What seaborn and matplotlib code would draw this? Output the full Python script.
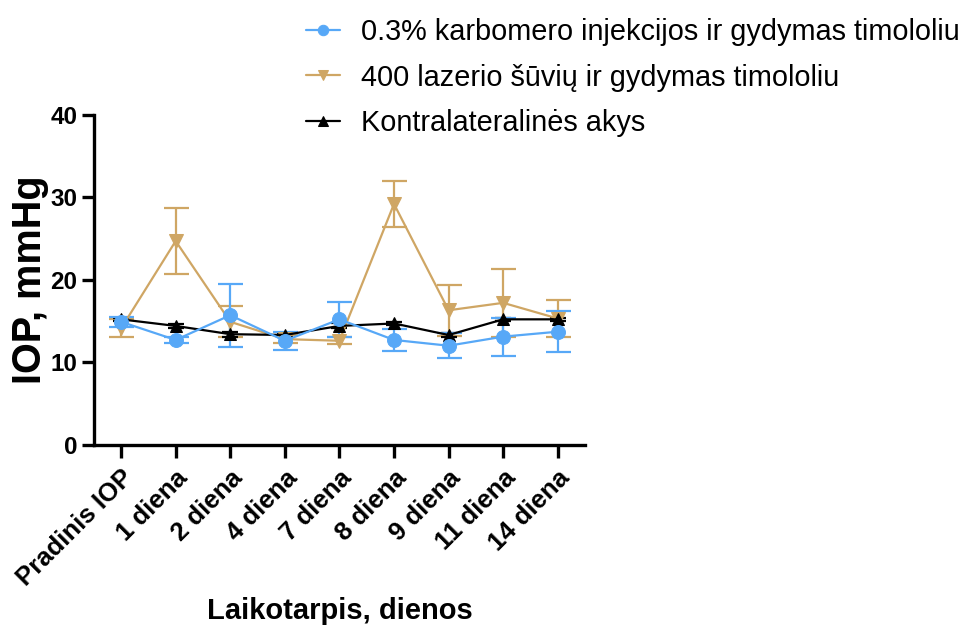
import numpy as np
import pandas as pd
import matplotlib
matplotlib.use("Agg")
import matplotlib.pyplot as plt
import seaborn as sns

# Time points
timepoints = ["Pradinis IOP", "1 diena", "2 diena", "4 diena", "7 diena",
              "8 diena", "9 diena", "11 diena", "14 diena"]

# Mean IOP (mmHg) and SD per group
carbomer_mean = [14.9, 12.7, 15.7, 12.6, 15.2, 12.7, 12.0, 13.1, 13.7]
carbomer_sd = [0.6, 0.4, 3.8, 1.1, 2.1, 1.3, 1.5, 2.3, 2.5]

laser_mean = [14.1, 24.7, 14.9, 12.8, 12.6, 29.2, 16.3, 17.2, 15.3]
laser_sd = [1.1, 4.0, 1.9, 0.5, 0.4, 2.8, 3.1, 4.1, 2.3]

contra_mean = [15.2, 14.4, 13.4, 13.3, 14.4, 14.7, 13.3, 15.2, 15.2]
contra_sd = [0.2, 0.2, 0.3, 0.2, 0.3, 0.2, 0.3, 0.2, 0.2]

group_names = ["0.3% karbomero injekcijos ir gydymas timololiu",
               "400 lazerio šūvių ir gydymas timololiu",
               "Kontralateralinės akys"]

sns.set_theme(style="ticks")
plt.rcParams["font.family"] = ["Liberation Sans", "DejaVu Sans"]
plt.rcParams["text.color"] = "black"
plt.rcParams["axes.labelcolor"] = "black"
plt.rcParams["xtick.color"] = "black"
plt.rcParams["ytick.color"] = "black"

fig = plt.figure(figsize=(9.67, 6.28), dpi=100)
ax = fig.add_axes([0.097, 0.292, 0.508, 0.525])

x = np.arange(len(timepoints))
# name, means, sds, colour, marker, marker size, cap size
series = [
    (group_names[1], laser_mean, laser_sd, "#CFA664", "v", 9.5, 9),
    (group_names[2], contra_mean, contra_sd, "black", "^", 9, 6),
    (group_names[0], carbomer_mean, carbomer_sd, "#57A8F7", "o", 10, 9),
]

frames = []
for name, m, s, c, mk, ms, cs in series:
    frames.append(pd.DataFrame({"pos": x, "IOP": m, "sd": s, "grupe": name}))
df = pd.concat(frames, ignore_index=True)

handles = {}
for name, m, s, c, mk, ms, cs in series:
    sub = df[df["grupe"] == name]
    ax.errorbar(sub["pos"], sub["IOP"], yerr=sub["sd"], fmt="none",
                ecolor=c, elinewidth=1.6, capsize=cs, capthick=1.6, zorder=2)
    sns.lineplot(data=sub, x="pos", y="IOP", ax=ax, color=c, marker=mk,
                 markersize=ms, markeredgecolor=c, linewidth=1.6,
                 label=name, legend=False, zorder=3)
    handles[name] = ax.lines[-1]

ax.set_xlim(-0.5, 8.5)
ax.set_ylim(0, 40)
ax.set_yticks([0, 10, 20, 30, 40])
ax.set_xticks(x)
ax.set_xticklabels(timepoints, rotation=45, ha="right", rotation_mode="anchor",
                   fontsize=18.5, fontweight="bold")
for lbl in ax.get_yticklabels():
    lbl.set_fontsize(17.5)
    lbl.set_fontweight("bold")

sns.despine(ax=ax)
for sp in ["left", "bottom"]:
    ax.spines[sp].set_linewidth(2.4)
    ax.spines[sp].set_color("black")
ax.tick_params(axis="both", direction="out", length=9, width=2.4,
               color="black", pad=3)
ax.tick_params(axis="x", pad=6)

ax.set_xlabel("Laikotarpis, dienos", fontsize=21, fontweight="bold")
ax.xaxis.label.set_va("center")
ax.xaxis.set_label_coords(0.5, -0.506)
ax.set_ylabel("IOP, mmHg", fontsize=28.5, fontweight="bold", labelpad=1)

leg_handles = [handles[n] for n in group_names]
fig.legend(leg_handles, group_names, loc="upper left",
           bbox_to_anchor=(0.316, 0.971), frameon=False, fontsize=20.8,
           handlelength=1.2, labelspacing=0.6, handletextpad=0.72,
           borderpad=0, borderaxespad=0, markerscale=0.75)

fig.savefig("out.png", dpi=100)
